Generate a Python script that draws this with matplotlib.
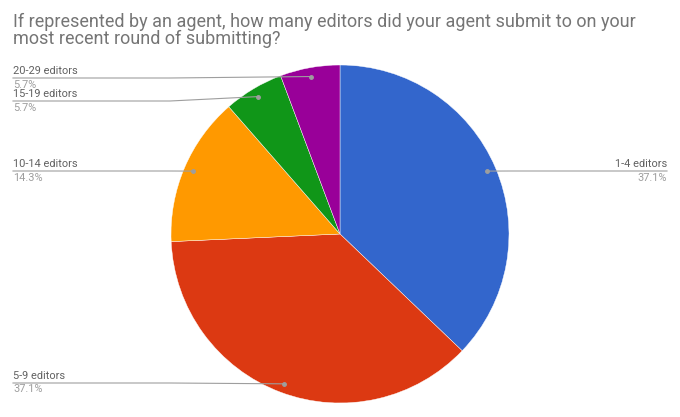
import numpy as np
import matplotlib.pyplot as plt

plt.rcParams['font.family'] = ['Roboto', 'DejaVu Sans']

title = "If represented by an agent, how many editors did your agent submit to on your\nmost recent round of submitting?"
categories = ["1-4 editors", "5-9 editors", "10-14 editors", "15-19 editors", "20-29 editors"]
counts = [13, 13, 5, 2, 2]
colors = ["#3366cc", "#dc3912", "#ff9900", "#109618", "#990099"]

W, H = 680, 417
cx, cy, r = 340, 417 - 234, 169

# label layout: (line y in px from top, side)
label_y = [171, 383, 171, 101, 78]
sides = ["right", "left", "left", "left", "left"]

fig = plt.figure(figsize=(W / 100, H / 100), dpi=100)
ax = fig.add_axes([0, 0, 1, 1])

wedges, _ = ax.pie(counts, colors=colors, startangle=90, counterclock=False,
                   center=(cx, cy), radius=r, frame=True,
                   wedgeprops=dict(edgecolor="white", linewidth=0.3))
ax.set_xlim(0, W)
ax.set_ylim(0, H)
ax.set_aspect("equal")
ax.axis("off")

total = sum(counts)
line_col = "#9e9e9e"
for w, cat, n, ly, side in zip(wedges, categories, counts, label_y, sides):
    ang = np.deg2rad((w.theta1 + w.theta2) / 2)
    dx = cx + 0.947 * r * np.cos(ang)
    dy = cy + 0.947 * r * np.sin(ang)
    y = H - ly
    if side == "left":
        ex, tx, ha = min(dx - 8, 170), 13, "left"
    else:
        ex, tx, ha = max(dx + 8, 510), 667, "right"
    ax.plot([dx, ex, tx], [dy, y, y], color=line_col, lw=0.8, zorder=3)
    ax.plot(dx, dy, "o", color=line_col, ms=2.5, zorder=4)
    ax.text(tx, y + 2, cat, ha=ha, va="bottom", fontsize=7.9, color="#616161")
    ax.text(tx, y - 1.5, f"{100 * n / total:.1f}%", ha=ha, va="top",
            fontsize=7.9, color="#9e9e9e")

ax.text(13, H - 13, title, ha="left", va="top", fontsize=13,
        color="#757575", linespacing=0.95)

fig.savefig("out.png", dpi=100)
